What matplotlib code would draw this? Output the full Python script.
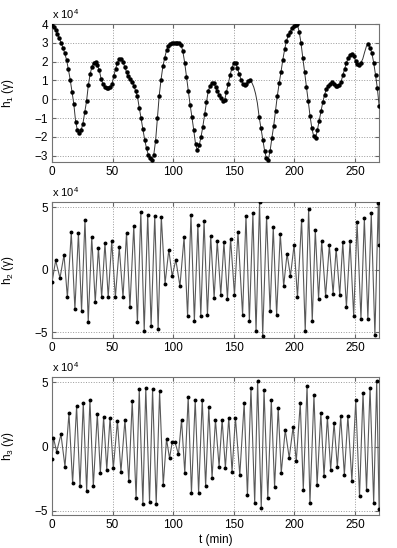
import numpy as np
import matplotlib
matplotlib.use('Agg')
import matplotlib.pyplot as plt

plt.rcParams['font.family'] = ['Liberation Sans', 'DejaVu Sans']
plt.rcParams['mathtext.fontset'] = 'custom'
plt.rcParams['mathtext.rm'] = 'Liberation Sans'
plt.rcParams['mathtext.it'] = 'Liberation Sans:italic'

# h1, sampled every 1.5 min, in units of 1e4 gamma
h1_dt = 1.5
h1 = [3.95, 3.85, 3.7, 3.5, 3.25, 3.0, 2.75, 2.45, 2.1, 1.6,
      1.05, 0.4, -0.25, -1.2, -1.65, -1.78, -1.65, -1.3, -0.7, -0.1,
      0.75, 1.35, 1.74, 1.95, 2.0, 1.8, 1.55, 1.1, 0.8, 0.66,
      0.6, 0.58, 0.65, 0.8, 1.25, 1.62, 1.95, 2.12, 2.16, 2.0,
      1.72, 1.45, 1.22, 1.1, 0.94, 0.72, 0.45, 0.15, -0.45, -1.0,
      -1.6, -2.15, -2.62, -2.95, -3.1, -3.22, -2.95, -2.2, -1.0, 0.2,
      1.05, 1.75, 2.2, 2.6, 2.82, 2.94, 2.98, 3.0, 3.0, 2.99,
      2.97, 2.9, 2.55, 1.95, 1.2, 0.42, -0.3, -0.95, -1.65, -2.4,
      -2.7, -2.45, -2.0, -1.45, -0.8, -0.15, 0.45, 0.72, 0.86, 0.87,
      0.65, 0.43, 0.25, 0.05, -0.1, -0.05, 0.4, 0.82, 1.3, 1.65,
      1.95, 1.93, 1.65, 1.35, 1.05, 0.82, 0.78, 0.82, 0.98, 1.0,
      0.88, 0.65, 0.3, -0.2, -0.95, -1.55, -2.15, -2.75, -3.15, -3.22,
      -2.75, -2.05, -1.4, -0.6, 0.2, 0.85, 1.45, 2.1, 2.65, 3.1,
      3.4, 3.6, 3.78, 3.88, 3.97, 3.98, 3.6, 3.0, 2.2, 1.45,
      0.65, -0.1, -0.9, -1.55, -1.98, -2.08, -1.65, -1.15, -0.65, -0.15,
      0.25, 0.55, 0.72, 0.82, 0.9, 0.8, 0.72, 0.72, 0.74, 0.9,
      1.28, 1.6, 1.95, 2.2, 2.35, 2.42, 2.3, 2.05, 1.9, 1.82,
      1.95, 2.15, 2.5, 2.82, 2.94, 2.75, 2.45, 1.95, 1.3, 0.6,
      -0.35]
# stretches of h1 with no samples marked (line only)
h1_gaps = [(164.0, 170.5), (256.0, 260.0)]

# h2 peaks and troughs (min, 1e4 gamma)
h2_t = [0, 3.0, 6.6, 9.9, 12.7, 15.9, 18.9, 21.8, 24.4, 27.2,
        29.9, 32.8, 35.7, 38.3, 41.0, 43.7, 46.4, 49.3, 52.3, 55.5,
        58.6, 61.5, 64.3, 67.5, 70.5, 73.3, 76.1, 79.0, 81.8, 84.8,
        87.6, 90.2, 93.3, 96.4, 99.2, 102.2, 105.6, 109.0, 111.9, 114.7,
        117.5, 120.4, 122.8, 125.5, 128.3, 131.0, 133.8, 136.4, 139.3, 141.9,
        144.8, 147.4, 150.6, 153.5, 157.3, 160.1, 162.9, 165.8, 168.4, 171.3,
        173.9, 177.1, 180.0, 182.6, 185.4, 188.4, 191.2, 194.0, 196.8, 199.8,
        202.6, 206.0, 209.0, 211.8, 214.8, 217.3, 220.0, 222.6, 225.8, 228.9,
        232.0, 234.5, 237.5, 240.0, 243.0, 246.0, 249.0, 251.8, 255.0, 257.8,
        260.7, 263.5, 266.5, 269.3, 270.0]
h2 = [-1.0, 0.75, -0.65, 1.2, -2.2, 3.0, -3.15, 2.95, -3.3, 4.0,
      -4.15, 2.6, -2.6, 1.75, -2.2, 2.15, -2.2, 2.3, -2.2, 1.8,
      -2.2, 2.95, -3.0, 3.5, -4.2, 4.6, -4.85, 4.4, -4.5, 4.3,
      -4.7, 4.25, -1.1, 1.6, -0.5, 0.8, -1.3, 2.6, -3.7, 4.4,
      -4.1, 3.6, -3.7, 3.9, -3.6, 2.7, -2.25, 2.3, -2.0, 2.2,
      -2.3, 2.5, -2.0, 3.0, -3.6, 4.3, -4.1, 4.5, -4.9, 5.4,
      -5.25, 4.25, -3.3, 3.4, -3.6, 2.9, -1.3, 1.3, -0.5, 2.0,
      -2.2, 4.0, -4.9, 4.85, -4.1, 3.2, -2.3, 2.3, -2.1, 1.95,
      -1.9, 1.7, -2.0, 2.2, -3.0, 2.3, -3.7, 3.8, -3.9, 4.1,
      -3.9, 4.5, -5.2, 5.35, 2.0]

# h3 peaks and troughs (min, 1e4 gamma)
h3_t = [0, 1.2, 3.8, 7.4, 10.7, 14.0, 17.0, 20.3, 23.1, 25.8,
        28.6, 31.3, 34.1, 37.4, 39.9, 42.6, 45.2, 47.9, 50.6, 54.0,
        56.9, 60.2, 63.4, 66.2, 69.4, 72.0, 75.0, 77.4, 80.5, 83.0,
        86.0, 88.8, 91.8, 94.5, 97.0, 99.3, 101.5, 104.4, 106.9, 109.6,
        112.4, 115.1, 118.2, 121.0, 124.0, 126.8, 129.4, 132.1, 134.9, 137.9,
        140.4, 143.1, 145.9, 148.6, 151.4, 155.0, 158.6, 161.3, 164.2, 167.3,
        169.7, 172.7, 175.0, 178.1, 181.0, 183.7, 186.7, 189.2, 192.5, 195.8,
        199.0, 201.6, 204.9, 207.4, 210.5, 212.9, 216.2, 218.8, 221.9, 224.5,
        227.3, 230.0, 232.8, 235.5, 238.3, 241.3, 244.2, 247.5, 250.7, 253.8,
        256.7, 259.6, 262.5, 265.5, 268.0, 270.0]
h3 = [-1.0, 0.7, -0.4, 0.95, -1.55, 2.6, -2.85, 3.15, -3.1, 3.4,
      -3.45, 3.65, -3.1, 2.55, -2.05, 2.3, -1.8, 2.25, -1.7, 2.0,
      -1.95, 2.1, -2.7, 3.55, -4.0, 4.45, -4.45, 4.55, -4.3, 4.45,
      -4.45, 4.3, -3.0, 0.6, -0.9, 0.4, 0.35, -0.6, 2.1, -2.05,
      3.85, -3.6, 3.65, -3.6, 3.65, -3.1, 3.05, -2.45, 2.1, -1.55,
      2.1, -1.65, 2.25, -1.95, 2.25, -2.2, 3.4, -3.8, 4.55, -4.4,
      5.1, -4.8, 4.42, -4.0, 3.65, -3.15, 3.03, -2.05, 1.3, -0.88,
      1.55, -1.15, 3.4, -3.35, 4.75, -4.4, 4.0, -3.0, 2.65, -2.3,
      2.3, -1.8, 1.86, -1.6, 2.35, -2.2, 2.38, -2.65, 3.6, -3.88,
      4.2, -3.4, 4.6, -4.4, 5.1, -4.85]

xticks = [0, 50, 100, 150, 200, 250]
panels = [
    ('h$_1$ (γ)', [-3, -2, -1, 0, 1, 2, 3, 4], (-3.35, 4.0)),
    ('h$_2$ (γ)', [-5, 0, 5], (-5.45, 5.4)),
    ('h$_3$ (γ)', [-5, 0, 5], (-5.33, 5.42)),
]

fig = plt.figure(figsize=(3.97, 5.48), dpi=100)
boxes = [[0.131, 0.704, 0.824, 0.252],
         [0.131, 0.383, 0.824, 0.248],
         [0.131, 0.060, 0.824, 0.252]]
axes = [fig.add_axes(b) for b in boxes]

t1 = np.arange(len(h1)) * h1_dt
h1 = np.array(h1)
keep = np.ones(len(t1), dtype=bool)
for a, b in h1_gaps:
    keep &= ~((t1 > a) & (t1 < b))

ax = axes[0]
ax.plot(t1, h1, color='0.2', lw=0.7, zorder=2)
ax.plot(t1[keep], h1[keep], 'o', color='k', ms=2.2, mec='k', zorder=3)

axes[1].plot(h2_t, h2, color='0.35', lw=0.8, zorder=2)
axes[1].plot(h2_t, h2, 'o', color='k', ms=1.8, mec='k', zorder=3)

axes[2].plot(h3_t, h3, color='0.35', lw=0.8, zorder=2)
axes[2].plot(h3_t, h3, 'o', color='k', ms=1.8, mec='k', zorder=3)

for ax, (lab, yt, yl) in zip(axes, panels):
    ax.set_xlim(0, 270)
    ax.set_ylim(*yl)
    ax.set_xticks(xticks)
    ax.set_yticks(yt)
    ax.tick_params(direction='in', top=True, right=True, length=3,
                   labelsize=8.5, pad=3, color='0.4')
    ax.grid(True, linestyle=':', color='0.6', lw=0.7)
    for s in ax.spines.values():
        s.set_color('0.45')
        s.set_linewidth(0.8)
    ax.set_ylabel(lab, fontsize=8.5)
    ax.yaxis.set_label_coords(-0.11, 0.5)
    ax.text(0.0, 1.02, r'x 10$^4$', transform=ax.transAxes,
            ha='left', va='bottom', fontsize=8)

axes[2].set_xlabel('t (min)', fontsize=8.5, labelpad=2)

fig.savefig('out.png', dpi=100)
